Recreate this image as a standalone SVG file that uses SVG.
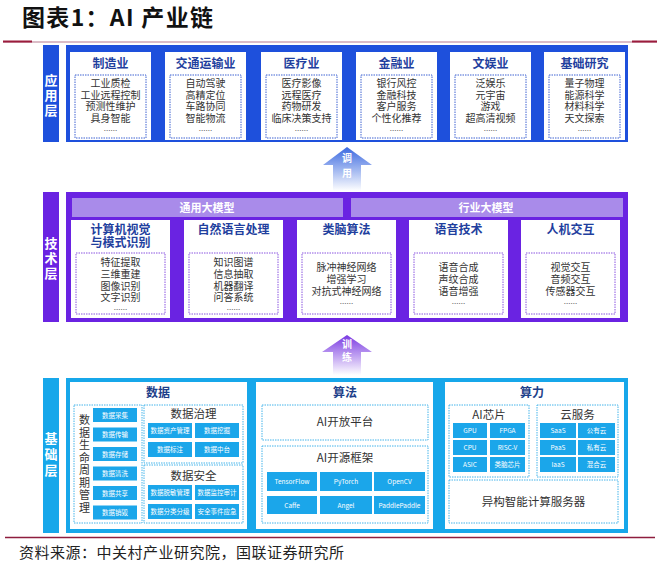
<svg xmlns="http://www.w3.org/2000/svg" width="660" height="566" viewBox="0 0 660 566">
<defs>
<style>
text{font-family:"Noto Sans CJK SC","Noto Sans",sans-serif;}
.ttl{font-size:23px;font-weight:bold;fill:#111;}
.foot{font-size:15px;fill:#222;}
.lbl{font-size:13px;font-weight:bold;fill:#fff;text-anchor:middle;}
.ct{font-size:12px;font-weight:bold;fill:#1f3f9e;text-anchor:middle;}
.it{font-size:10px;fill:#333;text-anchor:middle;}
.dots{font-size:8px;fill:#666;text-anchor:middle;}
.card{fill:#fff;}
.dA{fill:none;stroke:#3f63d2;stroke-width:1;stroke-dasharray:1.5 1;}
.dT{fill:none;stroke:#8a55e0;stroke-width:1;stroke-dasharray:1.5 1;}
.dB{fill:none;stroke:#45b4ea;stroke-width:1;stroke-dasharray:1.5 1;}
.sb{fill:#1ba6ea;}
.st{font-size:6.5px;fill:#fff;text-anchor:middle;font-family:"Noto Sans CJK SC","Liberation Sans",sans-serif;}
.sub{font-size:11.5px;fill:#333;text-anchor:middle;}
.vt{font-size:11px;fill:#333;text-anchor:middle;}
.bar{font-size:11px;font-weight:bold;fill:#fff;text-anchor:middle;}
.arr{font-size:10px;font-weight:bold;fill:#fff;text-anchor:middle;}
</style>
<linearGradient id="gA" x1="0" y1="0" x2="0" y2="1">
<stop offset="0" stop-color="#3b69e0"/>
<stop offset="1" stop-color="#3b69e0" stop-opacity="0"/>
</linearGradient>
<linearGradient id="gT" x1="0" y1="0" x2="0" y2="1">
<stop offset="0" stop-color="#7a3ae2"/>
<stop offset="1" stop-color="#7a3ae2" stop-opacity="0"/>
</linearGradient>
</defs>
<rect width="660" height="566" fill="#fff"/>

<g id="title">
<text class="ttl" x="22" y="26" textLength="191" lengthAdjust="spacing">图表1：AI 产业链</text>
<line x1="3" y1="42" x2="657" y2="42" stroke="#b87a90" stroke-width="1.2"/>
<line x1="3" y1="41.5" x2="32" y2="41.5" stroke="#9b1c3c" stroke-width="2"/>
<line x1="632" y1="41.5" x2="657" y2="41.5" stroke="#9b1c3c" stroke-width="2"/>
</g>

<!-- Application layer -->
<g id="app-layer">
<rect x="43" y="45" width="16" height="97" fill="#1e50dc"/>
<text class="lbl" x="51" y="85">应</text>
<text class="lbl" x="51" y="100">用</text>
<text class="lbl" x="51" y="115">层</text>
<rect x="66" y="45" width="562" height="97" fill="#1e50dc"/>
</g>
<g id="app-manufacturing">
<rect class="card" x="70" y="52" width="81" height="88"/>
<text class="ct" x="110.5" y="68">制造业</text>
<rect class="dA" x="75" y="75" width="71" height="63"/>
<text class="it" x="110.5" y="87">工业质检</text>
<text class="it" x="110.5" y="98.5">工业远程控制</text>
<text class="it" x="110.5" y="110">预测性维护</text>
<text class="it" x="110.5" y="121.5">具身智能</text>
<text class="dots" x="110.5" y="131">......</text>
</g>
<g id="app-transport">
<rect class="card" x="165" y="52" width="81" height="88"/>
<text class="ct" x="205.5" y="68">交通运输业</text>
<rect class="dA" x="170" y="75" width="71" height="63"/>
<text class="it" x="205.5" y="87">自动驾驶</text>
<text class="it" x="205.5" y="98.5">高精定位</text>
<text class="it" x="205.5" y="110">车路协同</text>
<text class="it" x="205.5" y="121.5">智能物流</text>
<text class="dots" x="205.5" y="131">......</text>
</g>
<g id="app-medical">
<rect class="card" x="261" y="52" width="81" height="88"/>
<text class="ct" x="301.5" y="68">医疗业</text>
<rect class="dA" x="266" y="75" width="71" height="63"/>
<text class="it" x="301.5" y="87">医疗影像</text>
<text class="it" x="301.5" y="98.5">远程医疗</text>
<text class="it" x="301.5" y="110">药物研发</text>
<text class="it" x="301.5" y="121.5">临床决策支持</text>
<text class="dots" x="301.5" y="131">......</text>
</g>
<g id="app-finance">
<rect class="card" x="356" y="52" width="81" height="88"/>
<text class="ct" x="396.5" y="68">金融业</text>
<rect class="dA" x="361" y="75" width="71" height="63"/>
<text class="it" x="396.5" y="87">银行风控</text>
<text class="it" x="396.5" y="98.5">金融科技</text>
<text class="it" x="396.5" y="110">客户服务</text>
<text class="it" x="396.5" y="121.5">个性化推荐</text>
<text class="dots" x="396.5" y="131">......</text>
</g>
<g id="app-entertainment">
<rect class="card" x="450" y="52" width="81" height="88"/>
<text class="ct" x="490.5" y="68">文娱业</text>
<rect class="dA" x="455" y="75" width="71" height="63"/>
<text class="it" x="490.5" y="87">泛娱乐</text>
<text class="it" x="490.5" y="98.5">元宇宙</text>
<text class="it" x="490.5" y="110">游戏</text>
<text class="it" x="490.5" y="121.5">超高清视频</text>
<text class="dots" x="490.5" y="131">......</text>
</g>
<g id="app-research">
<rect class="card" x="544" y="52" width="81" height="88"/>
<text class="ct" x="584.5" y="68">基础研究</text>
<rect class="dA" x="549" y="75" width="71" height="63"/>
<text class="it" x="584.5" y="87">量子物理</text>
<text class="it" x="584.5" y="98.5">能源科学</text>
<text class="it" x="584.5" y="110">材料科学</text>
<text class="it" x="584.5" y="121.5">天文探索</text>
<text class="dots" x="584.5" y="131">......</text>
</g>

<!-- connectors -->
<g id="connectors">
<polygon points="347,147 372,165 361,165 361,191 333,191 333,165 323,165" fill="url(#gA)"/>
<text class="arr" x="347" y="162">调</text>
<text class="arr" x="347" y="177">用</text>
<polygon points="347,335 372,352 361,352 361,375 333,375 333,352 322,352" fill="url(#gT)"/>
<text class="arr" x="347" y="348">训</text>
<text class="arr" x="347" y="361">练</text>
</g>

<!-- Technology layer -->
<g id="tech-layer">
<rect x="43" y="192" width="16" height="130" fill="#6a23e2"/>
<text class="lbl" x="51" y="248">技</text>
<text class="lbl" x="51" y="263">术</text>
<text class="lbl" x="51" y="278">层</text>
<rect x="66" y="192" width="562" height="130" fill="#6a23e2"/>
</g>
<g id="tech-general-model">
<rect x="72" y="198" width="271" height="19" fill="#a98bea"/>
<text class="bar" x="207" y="211.5">通用大模型</text>
</g>
<g id="tech-industry-model">
<rect x="351" y="198" width="272" height="19" fill="#a98bea"/>
<text class="bar" x="486" y="211.5">行业大模型</text>
</g>
<g id="tech-cv">
<rect class="card" x="71" y="220" width="99" height="98"/>
<text class="ct" x="120.5" y="234">计算机视觉</text>
<text class="ct" x="120.5" y="247">与模式识别</text>
<rect class="dT" x="76" y="253" width="89" height="61"/>
<text class="it" x="120.5" y="266">特征提取</text>
<text class="it" x="120.5" y="278">三维重建</text>
<text class="it" x="120.5" y="289.5">图像识别</text>
<text class="it" x="120.5" y="301">文字识别</text>
<text class="dots" x="120.5" y="310">......</text>
</g>
<g id="tech-nlp">
<rect class="card" x="184" y="220" width="99" height="98"/>
<text class="ct" x="233.5" y="234">自然语言处理</text>
<rect class="dT" x="189" y="253" width="89" height="61"/>
<text class="it" x="233.5" y="266">知识图谱</text>
<text class="it" x="233.5" y="278">信息抽取</text>
<text class="it" x="233.5" y="289.5">机器翻译</text>
<text class="it" x="233.5" y="301">问答系统</text>
<text class="dots" x="233.5" y="310">......</text>
</g>
<g id="tech-brain">
<rect class="card" x="297" y="220" width="99" height="98"/>
<text class="ct" x="346.5" y="234">类脑算法</text>
<rect class="dT" x="302" y="253" width="89" height="61"/>
<text class="it" x="346.5" y="271">脉冲神经网络</text>
<text class="it" x="346.5" y="283">增强学习</text>
<text class="it" x="346.5" y="294.5">对抗式神经网络</text>
<text class="dots" x="346.5" y="304">......</text>
</g>
<g id="tech-speech">
<rect class="card" x="409" y="220" width="99" height="98"/>
<text class="ct" x="458.5" y="234">语音技术</text>
<rect class="dT" x="414" y="253" width="89" height="61"/>
<text class="it" x="458.5" y="271">语音合成</text>
<text class="it" x="458.5" y="283">声纹合成</text>
<text class="it" x="458.5" y="294.5">语音增强</text>
<text class="dots" x="458.5" y="304">......</text>
</g>
<g id="tech-hci">
<rect class="card" x="521" y="220" width="99" height="98"/>
<text class="ct" x="570.5" y="234">人机交互</text>
<rect class="dT" x="526" y="253" width="89" height="61"/>
<text class="it" x="570.5" y="271">视觉交互</text>
<text class="it" x="570.5" y="283">音频交互</text>
<text class="it" x="570.5" y="294.5">传感器交互</text>
<text class="dots" x="570.5" y="304">......</text>
</g>

<!-- Base layer -->
<g id="base-layer">
<rect x="43" y="378" width="16" height="155" fill="#17a7ea"/>
<text class="lbl" x="51" y="443">基</text>
<text class="lbl" x="51" y="459">础</text>
<text class="lbl" x="51" y="475">层</text>
<rect x="66" y="378" width="562" height="155" fill="#17a7ea"/>
</g>
<g id="base-data">
<rect class="card" x="70" y="382" width="177" height="147"/>
<text class="ct" x="158" y="397" style="fill:#1e3f8a">数据</text>
<rect class="dB" x="74" y="405" width="68" height="118"/>
<text class="vt" x="84.5" y="424">数</text>
<text class="vt" x="84.5" y="436.5">据</text>
<text class="vt" x="84.5" y="449">生</text>
<text class="vt" x="84.5" y="461.5">命</text>
<text class="vt" x="84.5" y="474">周</text>
<text class="vt" x="84.5" y="486.5">期</text>
<text class="vt" x="84.5" y="499">管</text>
<text class="vt" x="84.5" y="511.5">理</text>
<rect class="sb" x="93" y="408" width="44" height="14"/><text class="st" x="115" y="417.5">数据采集</text>
<rect class="sb" x="93" y="427.5" width="44" height="14"/><text class="st" x="115" y="437">数据传输</text>
<rect class="sb" x="93" y="447" width="44" height="14"/><text class="st" x="115" y="456.5">数据存储</text>
<rect class="sb" x="93" y="466.5" width="44" height="14"/><text class="st" x="115" y="476">数据清洗</text>
<rect class="sb" x="93" y="486" width="44" height="14"/><text class="st" x="115" y="495.5">数据共享</text>
<rect class="sb" x="93" y="505.5" width="44" height="14"/><text class="st" x="115" y="515">数据销毁</text>
<rect class="dB" x="144" y="405" width="99" height="58"/>
<text class="sub" x="193.5" y="417.5">数据治理</text>
<rect class="sb" x="148" y="423" width="44" height="15"/><text class="st" x="170" y="433">数据资产管理</text>
<rect class="sb" x="195" y="423" width="44" height="15"/><text class="st" x="217" y="433">数据挖掘</text>
<rect class="sb" x="148" y="442" width="44" height="15"/><text class="st" x="170" y="452">数据标注</text>
<rect class="sb" x="195" y="442" width="44" height="15"/><text class="st" x="217" y="452">数据中台</text>
<rect class="dB" x="144" y="465" width="99" height="58"/>
<text class="sub" x="193.5" y="480">数据安全</text>
<rect class="sb" x="148" y="485" width="44" height="15"/><text class="st" x="170" y="495">数据脱敏管理</text>
<rect class="sb" x="195" y="485" width="44" height="15"/><text class="st" x="217" y="495">数据监控审计</text>
<rect class="sb" x="148" y="504" width="44" height="15"/><text class="st" x="170" y="514">数据分类分级</text>
<rect class="sb" x="195" y="504" width="44" height="15"/><text class="st" x="217" y="514">安全事件应急</text>
</g>
<g id="base-algorithm">
<rect class="card" x="256" y="382" width="177" height="147"/>
<text class="ct" x="345" y="397" style="fill:#1e3f8a">算法</text>
<rect class="dB" x="262" y="405" width="166" height="35"/>
<text class="sub" x="345" y="426">AI开放平台</text>
<rect class="dB" x="262" y="446" width="166" height="77"/>
<text class="sub" x="345" y="462">AI开源框架</text>
<rect class="sb" x="267" y="472" width="50" height="19"/><text class="st" x="292" y="484">TensorFlow</text>
<rect class="sb" x="320" y="472" width="52" height="19"/><text class="st" x="346" y="484">PyTorch</text>
<rect class="sb" x="374" y="472" width="51" height="19"/><text class="st" x="399.5" y="484">OpenCV</text>
<rect class="sb" x="267" y="496" width="50" height="18"/><text class="st" x="292" y="507.5">Caffe</text>
<rect class="sb" x="320" y="496" width="52" height="18"/><text class="st" x="346" y="507.5">Angel</text>
<rect class="sb" x="374" y="496" width="51" height="18"/><text class="st" x="399.5" y="507.5">PaddlePaddle</text>
</g>
<g id="base-compute">
<rect class="card" x="445" y="382" width="179" height="147"/>
<text class="ct" x="532" y="397" style="fill:#1e3f8a">算力</text>
<rect class="dB" x="449" y="405" width="80" height="72"/>
<text class="sub" x="489" y="418.5">AI芯片</text>
<rect class="sb" x="453" y="423" width="34" height="15"/><text class="st" x="470" y="433">GPU</text>
<rect class="sb" x="490" y="423" width="35" height="15"/><text class="st" x="507.5" y="433">FPGA</text>
<rect class="sb" x="453" y="440" width="34" height="15"/><text class="st" x="470" y="450">CPU</text>
<rect class="sb" x="490" y="440" width="35" height="15"/><text class="st" x="507.5" y="450">RISC-V</text>
<rect class="sb" x="453" y="457" width="34" height="15"/><text class="st" x="470" y="467">ASIC</text>
<rect class="sb" x="490" y="457" width="35" height="15"/><text class="st" x="507.5" y="467">类脑芯片</text>
<rect class="dB" x="537" y="405" width="81" height="72"/>
<text class="sub" x="577.5" y="418.5">云服务</text>
<rect class="sb" x="540" y="423" width="36" height="15"/><text class="st" x="558" y="433">SaaS</text>
<rect class="sb" x="578" y="423" width="37" height="15"/><text class="st" x="596.5" y="433">公有云</text>
<rect class="sb" x="540" y="440" width="36" height="15"/><text class="st" x="558" y="450">PaaS</text>
<rect class="sb" x="578" y="440" width="37" height="15"/><text class="st" x="596.5" y="450">私有云</text>
<rect class="sb" x="540" y="457" width="36" height="15"/><text class="st" x="558" y="467">IaaS</text>
<rect class="sb" x="578" y="457" width="37" height="15"/><text class="st" x="596.5" y="467">混合云</text>
<rect class="dB" x="449" y="480" width="169" height="43"/>
<text class="sub" x="533.5" y="506">异构智能计算服务器</text>
</g>

<g id="footer">
<line x1="5" y1="537.5" x2="655" y2="537.5" stroke="#8e1d3e" stroke-width="1.5"/>
<text class="foot" x="19" y="558" textLength="325" lengthAdjust="spacing">资料来源：中关村产业研究院，国联证券研究所</text>
</g>
</svg>
